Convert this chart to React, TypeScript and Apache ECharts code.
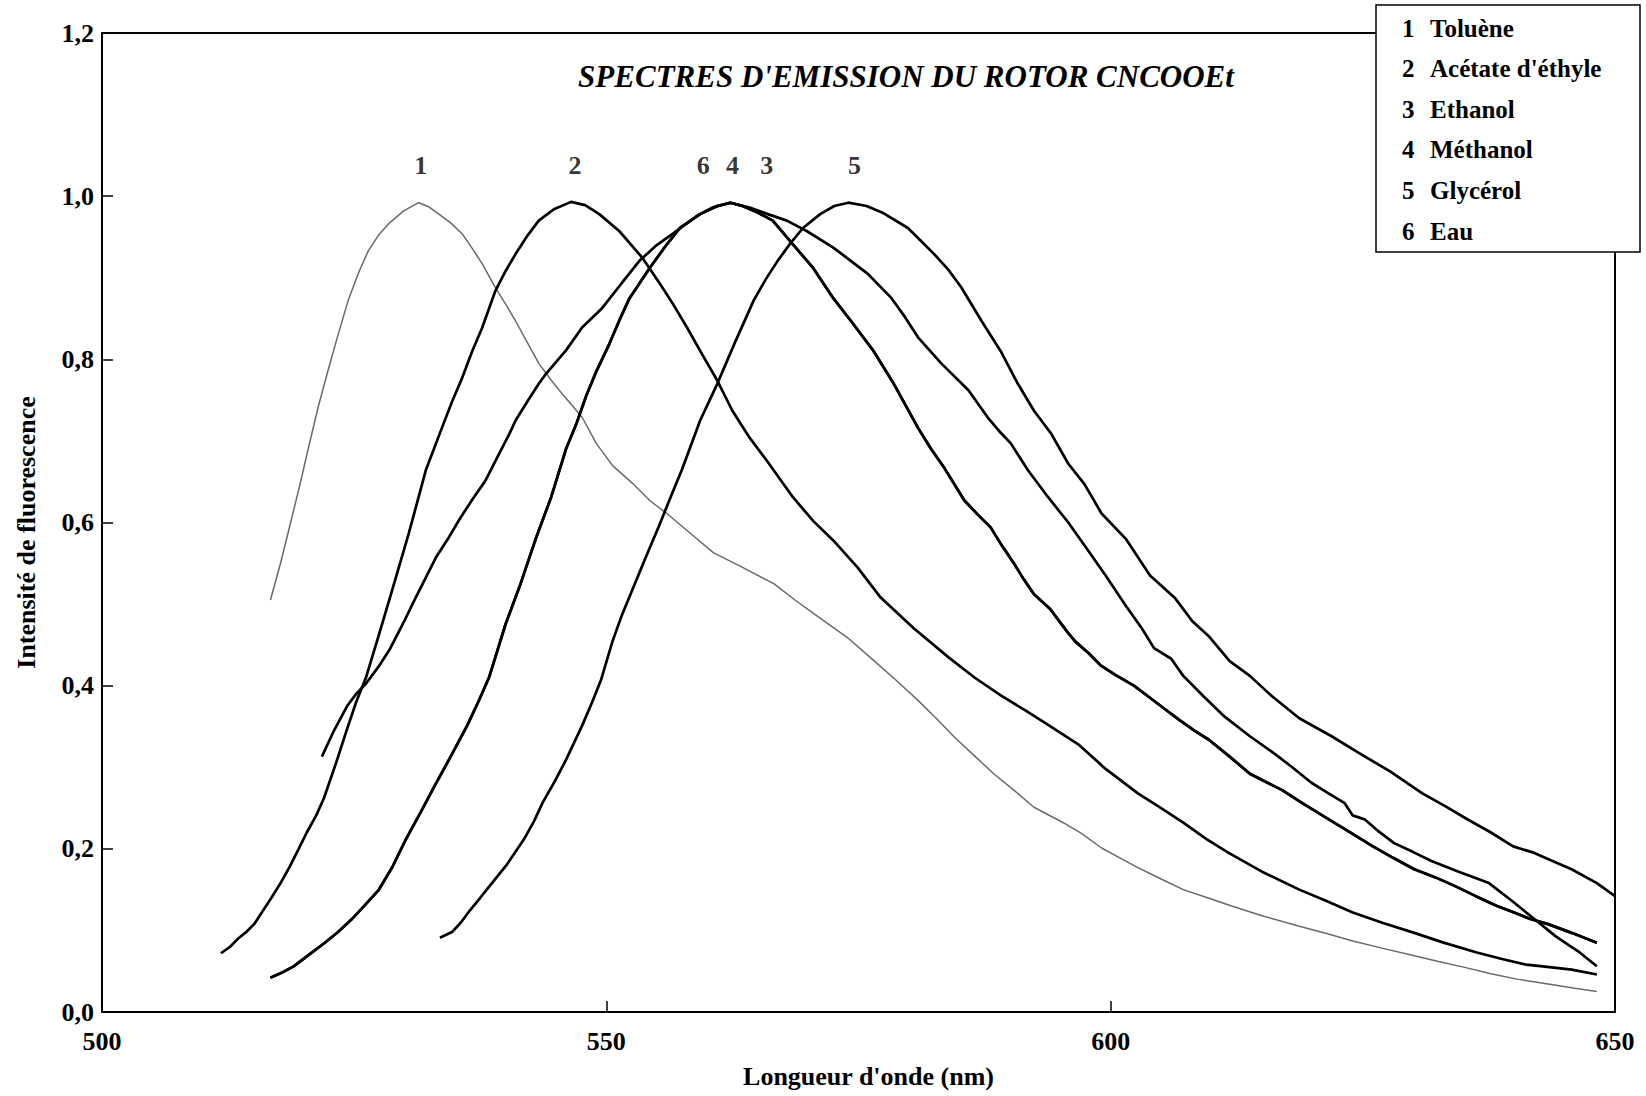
import React, { useEffect, useRef } from "react";
import * as echarts from "echarts";

// ---- Data (wavelength nm, normalised fluorescence intensity) ----
const toluene: number[][] = [
  [516.7, 0.505], [517.7, 0.55], [518.7, 0.6], [519.6, 0.645], [520.4, 0.688], [521.4, 0.74], [522.4, 0.786],
  [523.4, 0.83], [524.4, 0.872], [525.4, 0.905], [526.4, 0.933], [527.4, 0.952], [528.4, 0.966], [529.9, 0.982],
  [531.4, 0.992], [532.4, 0.987], [533.4, 0.978], [534.6, 0.967], [535.7, 0.954], [536.7, 0.936], [537.7, 0.917],
  [539.0, 0.888], [540.0, 0.868], [541.0, 0.847], [542.2, 0.82], [543.3, 0.795], [544.5, 0.775], [545.6, 0.758],
  [547.6, 0.729], [549.0, 0.697], [550.6, 0.67], [552.6, 0.648], [554.3, 0.627], [556.0, 0.611], [558.5, 0.585],
  [560.6, 0.563], [563.5, 0.545], [566.6, 0.525], [568.7, 0.505], [570.6, 0.488], [573.9, 0.459], [576.5, 0.431],
  [578.7, 0.407], [580.9, 0.382], [582.7, 0.36], [584.5, 0.337], [586.5, 0.314], [588.4, 0.292], [590.4, 0.272],
  [592.4, 0.251], [595.3, 0.232], [597.1, 0.219], [599.1, 0.201], [600.9, 0.189], [602.7, 0.177], [605.0, 0.163],
  [607.2, 0.15], [609.6, 0.14], [612.0, 0.13], [615.0, 0.118], [618.7, 0.105], [621.5, 0.096], [624.0, 0.087],
  [627.0, 0.078], [630.1, 0.069], [632.5, 0.062], [635.0, 0.055], [637.7, 0.047], [640.4, 0.04], [644.0, 0.033],
  [646.0, 0.029], [648.2, 0.025],
];

const acetate: number[][] = [
  [511.8, 0.072], [512.7, 0.08], [513.5, 0.09], [514.3, 0.098], [515.1, 0.108], [516.0, 0.125], [516.8, 0.14],
  [517.7, 0.158], [518.6, 0.178], [519.5, 0.2], [520.3, 0.22], [521.2, 0.24], [522.0, 0.262], [523.2, 0.305],
  [524.3, 0.347], [525.2, 0.38], [526.2, 0.411], [527.4, 0.46], [528.6, 0.51], [529.5, 0.548], [530.4, 0.586],
  [531.3, 0.627], [532.1, 0.664], [533.7, 0.716], [534.7, 0.748], [535.7, 0.777], [536.7, 0.81], [537.7, 0.839],
  [539.0, 0.884], [540.0, 0.908], [541.0, 0.929], [542.2, 0.952], [543.3, 0.97], [544.8, 0.984], [546.5, 0.993],
  [547.9, 0.989], [549.3, 0.978], [551.3, 0.957], [553.6, 0.924], [555.3, 0.893], [556.6, 0.868], [558.0, 0.839],
  [559.5, 0.806], [561.0, 0.774], [562.5, 0.737], [564.2, 0.704], [565.9, 0.676], [568.5, 0.631], [570.5, 0.602],
  [572.5, 0.578], [574.9, 0.545], [577.2, 0.508], [580.5, 0.47], [583.9, 0.435], [586.5, 0.41], [589.1, 0.388],
  [591.5, 0.37], [593.8, 0.352], [596.9, 0.327], [599.5, 0.298], [602.7, 0.268], [605.0, 0.25], [607.2, 0.232],
  [609.5, 0.212], [611.7, 0.195], [615.0, 0.172], [618.7, 0.15], [621.4, 0.136], [624.0, 0.122], [627.0, 0.109],
  [630.1, 0.097], [633.0, 0.085], [636.3, 0.073], [638.8, 0.065], [641.2, 0.058], [643.5, 0.055], [645.7, 0.052],
  [648.2, 0.046],
];

const glycerol: number[][] = [
  [533.5, 0.091], [534.7, 0.098], [535.6, 0.11], [536.5, 0.125], [537.5, 0.14], [538.4, 0.154], [540.1, 0.18],
  [541.8, 0.211], [542.8, 0.233], [543.7, 0.257], [544.9, 0.283], [546.0, 0.309], [547.6, 0.351], [548.6, 0.38],
  [549.5, 0.408], [550.6, 0.454], [551.5, 0.485], [552.5, 0.515], [553.9, 0.557], [555.2, 0.595], [556.4, 0.632],
  [557.5, 0.665], [559.3, 0.725], [561.0, 0.77], [562.8, 0.822], [564.6, 0.872], [565.8, 0.898], [567.0, 0.921],
  [568.3, 0.943], [569.5, 0.961], [571.2, 0.978], [572.6, 0.988], [574.0, 0.992], [575.8, 0.988], [577.5, 0.979],
  [579.9, 0.961], [581.2, 0.945], [582.5, 0.929], [583.9, 0.91], [585.2, 0.888], [587.2, 0.847], [589.1, 0.81],
  [590.8, 0.77], [592.4, 0.737], [594.1, 0.709], [595.8, 0.672], [597.4, 0.647], [599.1, 0.611], [601.5, 0.58],
  [603.9, 0.535], [606.4, 0.507], [608.1, 0.479], [609.7, 0.461], [611.8, 0.43], [613.8, 0.412], [616.0, 0.387],
  [618.7, 0.36], [621.9, 0.338], [624.8, 0.316], [627.7, 0.295], [630.9, 0.268], [633.2, 0.252], [635.4, 0.236],
  [637.7, 0.22], [639.9, 0.203], [642.0, 0.195], [643.8, 0.185], [645.7, 0.175], [648.2, 0.158], [650.0, 0.142],
];

// rising edge shared by ethanol and methanol (steep), and water (gentle)
const steepRise: number[][] = [
  [516.7, 0.042], [517.8, 0.048], [519.0, 0.056], [520.5, 0.07], [522.0, 0.084], [523.4, 0.098], [524.7, 0.113],
  [526.0, 0.13], [527.4, 0.149], [528.8, 0.178], [530.1, 0.211], [531.6, 0.245], [533.1, 0.28], [534.7, 0.316],
  [536.2, 0.351], [537.3, 0.38], [538.4, 0.411], [539.2, 0.443], [540.0, 0.475], [541.5, 0.525], [543.0, 0.58],
  [544.5, 0.63], [546.0, 0.69], [547.0, 0.72], [548.0, 0.755], [549.0, 0.785], [550.3, 0.819], [551.3, 0.848],
  [552.3, 0.875], [554.3, 0.912], [556.0, 0.941], [557.3, 0.961], [559.3, 0.978], [561.0, 0.988], [562.3, 0.992],
];

const gentleRise: number[][] = [
  [521.8, 0.313], [523.0, 0.345], [524.3, 0.375], [525.2, 0.39], [526.2, 0.403], [527.4, 0.423], [528.5, 0.444],
  [529.8, 0.475], [531.1, 0.508], [533.1, 0.557], [534.3, 0.58], [535.4, 0.603], [536.7, 0.628], [538.0, 0.651],
  [539.2, 0.68], [540.4, 0.709], [541.0, 0.725], [542.2, 0.749], [543.3, 0.77], [544.0, 0.782], [546.0, 0.811],
  [547.6, 0.839], [549.6, 0.863], [551.5, 0.893], [553.3, 0.921], [555.0, 0.94], [556.6, 0.954], [559.0, 0.976],
  [560.5, 0.986], [562.3, 0.992],
];

// falling edges: lower (methanol, water) and upper (ethanol)
const lowerFall: number[][] = [
  [563.5, 0.988], [565.0, 0.98], [566.5, 0.97], [568.5, 0.941], [570.5, 0.912], [572.5, 0.875], [574.5, 0.843],
  [576.5, 0.81], [578.5, 0.77], [579.7, 0.743], [580.9, 0.716], [582.2, 0.69], [583.5, 0.667], [585.5, 0.627],
  [586.8, 0.61], [588.1, 0.594], [589.2, 0.572], [590.4, 0.55], [591.4, 0.53], [592.4, 0.512], [594.0, 0.494],
  [595.7, 0.466], [596.5, 0.454], [597.8, 0.44], [599.0, 0.425], [600.5, 0.413], [602.3, 0.4], [603.7, 0.387],
  [605.3, 0.372], [606.8, 0.358], [608.3, 0.345], [609.7, 0.334], [611.8, 0.313], [613.8, 0.292], [615.4, 0.282],
  [617.0, 0.272], [619.0, 0.256], [621.1, 0.24], [623.5, 0.222], [626.0, 0.203], [628.0, 0.189], [630.1, 0.175],
  [632.2, 0.165], [634.2, 0.154], [636.2, 0.142], [638.3, 0.13], [640.0, 0.122], [641.6, 0.114], [643.3, 0.108],
  [645.7, 0.097], [648.2, 0.085],
];

const upperFall: number[][] = [
  [564.2, 0.986], [566.0, 0.978], [567.9, 0.97], [569.9, 0.957], [572.5, 0.937], [574.2, 0.921], [575.9, 0.905],
  [578.2, 0.876], [579.6, 0.852], [580.9, 0.827], [583.2, 0.795], [585.9, 0.762], [587.8, 0.729], [589.1, 0.71],
  [590.1, 0.697], [591.8, 0.664], [593.8, 0.631], [595.8, 0.6], [597.8, 0.565], [599.5, 0.535], [601.5, 0.498],
  [603.1, 0.47], [604.3, 0.446], [606.0, 0.433], [607.2, 0.412], [609.2, 0.387], [611.3, 0.362], [613.8, 0.338],
  [616.2, 0.317], [618.0, 0.3], [619.9, 0.281], [621.6, 0.268], [623.2, 0.256], [624.0, 0.241], [625.2, 0.236],
  [626.6, 0.221], [628.1, 0.207], [630.0, 0.196], [631.8, 0.185], [634.5, 0.172], [637.5, 0.158], [639.8, 0.136],
  [642.0, 0.114], [644.1, 0.093], [645.3, 0.083], [646.5, 0.073], [648.2, 0.056],
];

const ethanol = [...steepRise, ...upperFall];
const methanol = [...steepRise, ...lowerFall];
const eau = [...gentleRise, ...lowerFall];

const seriesNames = ["Toluène", "Acétate d'éthyle", "Ethanol", "Méthanol", "Glycérol", "Eau"];
const seriesNumbers = ["1", "2", "3", "4", "5", "6"];
const curveLabels: (number | string)[][] = [
  [531.6, 1.038, "1"], [546.9, 1.038, "2"], [559.6, 1.038, "6"],
  [562.5, 1.038, "4"], [565.9, 1.038, "3"], [574.6, 1.038, "5"],
];

const titleText = "SPECTRES D'EMISSION DU ROTOR CNCOOEt";
const xName = "Longueur d'onde (nm)";
const yName = "Intensité de fluorescence";

const FONT = "'Liberation Serif', 'Times New Roman', serif";

export default function App() {
  const ref = useRef<HTMLDivElement>(null);
  useEffect(() => {
    if (!ref.current) return;
    const chart = echarts.init(ref.current, undefined, { renderer: "svg" });
    const thick = { color: "#000", width: 2.7 };
    const mkLine = (name: string, data: number[][], thin = false) => ({
      name,
      type: "line",
      data,
      showSymbol: false,
      symbol: "none",
      smooth: false,
      lineStyle: thin ? { color: "#6a6a6a", width: 1.5 } : thick,
      itemStyle: { color: thin ? "#6a6a6a" : "#000" },
      z: thin ? 2 : 3,
    });
    const option: any = {
      animation: false,
      backgroundColor: "#fff",
      title: {
        text: titleText,
        left: 901,
        top: 56,
        textAlign: "center",
        textStyle: { fontFamily: FONT, fontSize: 31, fontWeight: "bold", fontStyle: "italic", color: "#000" },
      },
      grid: { left: 102, right: 31, top: 33, bottom: 84, containLabel: false },
      legend: {
        data: seriesNames,
        orient: "vertical",
        left: 1376,
        top: 5,
        icon: "none",
        itemWidth: 1,
        itemHeight: 26,
        itemGap: 14.6,
        selectedMode: false,
        padding: [10, 10, 8, 20],
        borderColor: "#000",
        borderWidth: 1.5,
        backgroundColor: "#fff",
        formatter: (name: string) => `{n|${seriesNumbers[seriesNames.indexOf(name)]}}{s|${name}}`,
        textStyle: {
          fontFamily: FONT,
          fontSize: 25,
          fontWeight: "bold",
          color: "#000",
          lineHeight: 26,
          rich: {
            n: { width: 28, fontFamily: FONT, fontSize: 25, fontWeight: "bold", color: "#000", lineHeight: 26 },
            s: { width: 200, fontFamily: FONT, fontSize: 25, fontWeight: "bold", color: "#000", lineHeight: 26 },
          },
        },
      },
      xAxis: [
        {
          type: "value",
          min: 500,
          max: 650,
          interval: 50,
          position: "bottom",
          name: xName,
          nameLocation: "middle",
          nameGap: 51,
          nameTextStyle: {
            fontFamily: FONT, fontSize: 26, fontWeight: "bold", color: "#000", padding: [0, 0, 0, 20],
          },
          axisLine: { show: true, lineStyle: { color: "#000", width: 2 } },
          axisTick: { show: true, inside: true, length: 11, lineStyle: { color: "#000", width: 1.5 } },
          axisLabel: { fontFamily: FONT, fontSize: 26, fontWeight: "bold", color: "#000", margin: 16 },
          splitLine: { show: false },
        },
        {
          type: "value",
          min: 500,
          max: 650,
          position: "top",
          axisLine: { show: true, onZero: false, lineStyle: { color: "#000", width: 2 } },
          axisTick: { show: false },
          axisLabel: { show: false },
          splitLine: { show: false },
        },
      ],
      yAxis: [
        {
          type: "value",
          min: 0,
          max: 1.2,
          interval: 0.2,
          position: "left",
          name: yName,
          nameLocation: "middle",
          nameGap: 63,
          nameTextStyle: {
            fontFamily: FONT, fontSize: 26, fontWeight: "bold", color: "#000", padding: [0, 20, 0, 0],
          },
          axisLine: { show: true, lineStyle: { color: "#000", width: 2 } },
          axisTick: { show: true, inside: true, length: 11, lineStyle: { color: "#000", width: 1.5 } },
          axisLabel: {
            fontFamily: FONT,
            fontSize: 26,
            fontWeight: "bold",
            color: "#000",
            margin: 8,
            formatter: (v: number) => v.toFixed(1).replace(".", ","),
          },
          splitLine: { show: false },
        },
        {
          type: "value",
          min: 0,
          max: 1.2,
          position: "right",
          axisLine: { show: true, onZero: false, lineStyle: { color: "#000", width: 2 } },
          axisTick: { show: false },
          axisLabel: { show: false },
          splitLine: { show: false },
        },
      ],
      series: [
        mkLine(seriesNames[0], toluene, true),
        mkLine(seriesNames[1], acetate),
        mkLine(seriesNames[2], ethanol),
        mkLine(seriesNames[3], methanol),
        mkLine(seriesNames[4], glycerol),
        mkLine(seriesNames[5], eau),
        {
          name: "labels",
          type: "scatter",
          data: curveLabels,
          symbolSize: 0,
          silent: true,
          itemStyle: { color: "#000" },
          label: {
            show: true,
            position: "inside",
            formatter: (p: any) => p.data[2],
            fontFamily: FONT,
            fontSize: 26,
            fontWeight: "bold",
            color: "#000",
          },
        },
      ],
    };
    chart.setOption(option);
    return () => chart.dispose();
  }, []);
  return (
    <div
      ref={ref}
      style={{ position: "fixed", left: 0, top: 0, width: 1646, height: 1096, background: "#fff" }}
    />
  );
}
